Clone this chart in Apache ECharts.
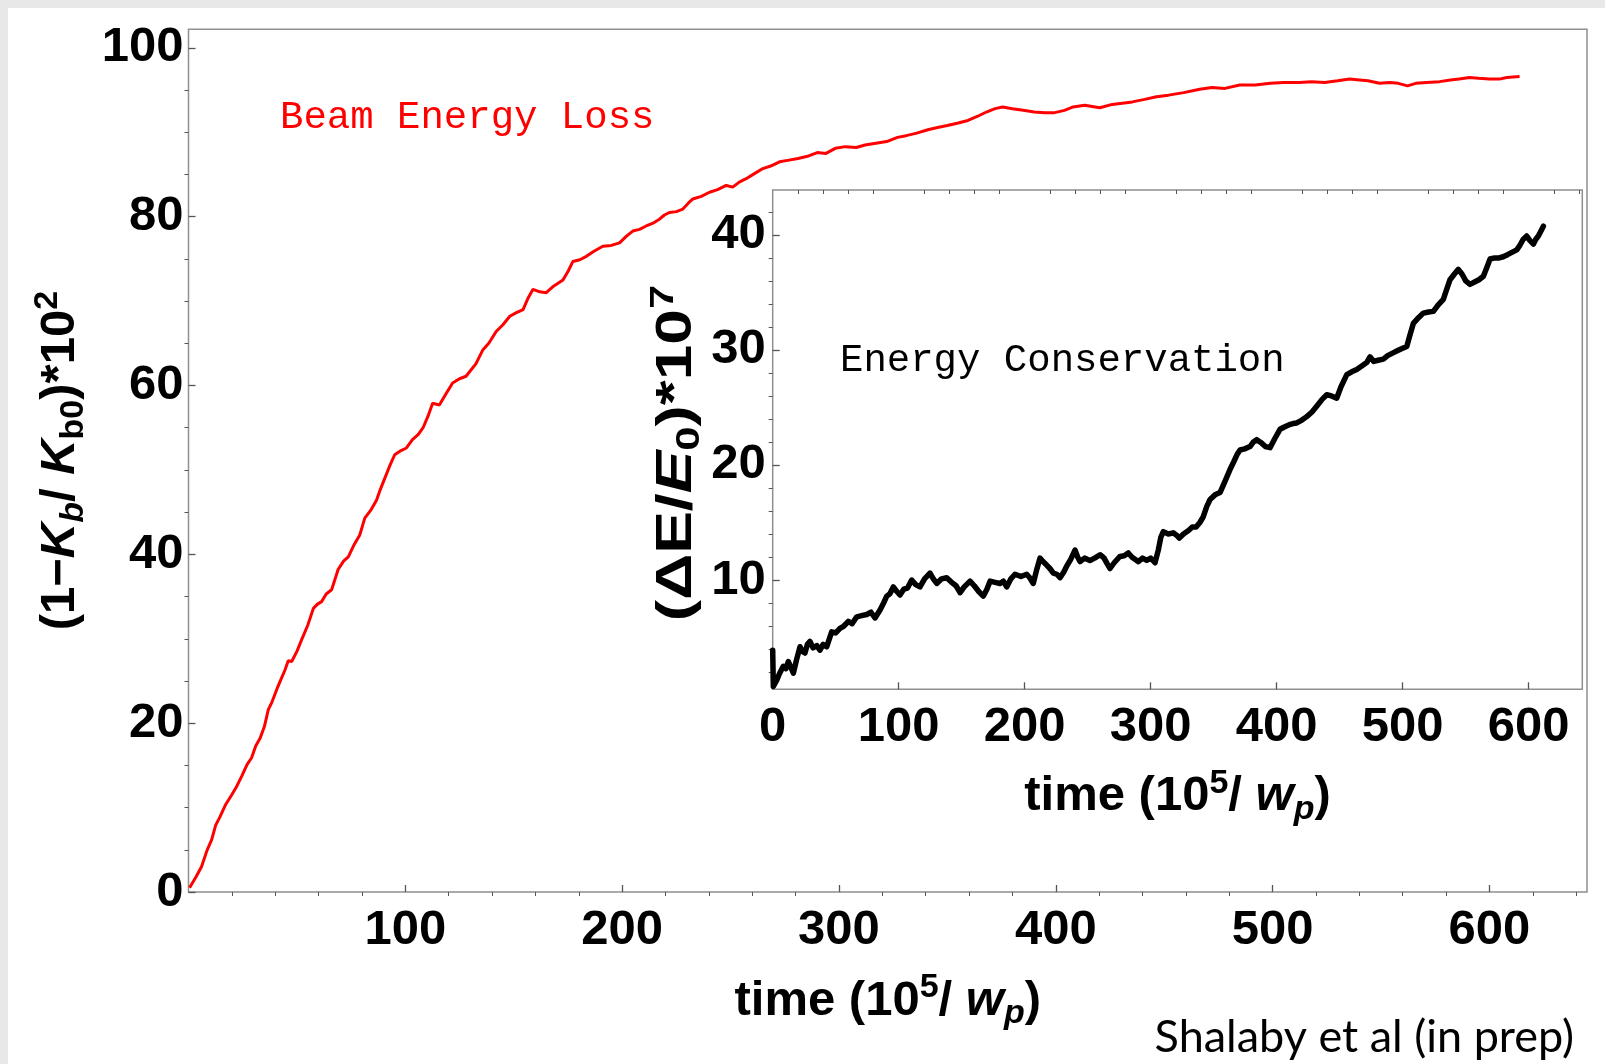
<!DOCTYPE html>
<html>
<head>
    <meta charset="UTF-8">
    <title>Beam Energy Loss</title>
    <script src="https://cdn.jsdelivr.net/npm/echarts@6/dist/echarts.min.js"></script>
    <style>
        body { margin: 0; background: #fff; }
        .strip { position: absolute; background: #e8e8e8; }
        #chart { position: absolute; left: 0; top: 0; width: 1605px; height: 1064px; }
    </style>
</head>
<body>
    <div class="strip" style="left:0; top:0; width:1605px; height:8px;"></div>
    <div class="strip" style="left:0; top:0; width:8px; height:1064px;"></div>
    <div id="chart"></div>

    <script>
        // main panel: beam energy loss (red)
        var beamT = [0.5, 1, 3.5, 6, 8.5, 10.7, 12.5, 14.5, 17, 19.9, 22, 24.5, 27, 29.1, 31, 33, 35, 36.8, 38.5, 40.7,
            42.5, 44.5, 46, 47.6, 50, 52.2, 55, 57.6, 59.5, 61.4, 63.5, 66, 67.5, 69, 71.5, 73.7, 76.5, 79, 81.3, 84,
            86.7, 88.5, 90.5, 93, 95.1, 98, 100.5, 103.3, 106, 108.2, 110.5, 112.6, 115.7, 118.5, 121.8, 125, 128, 132.6, 135.7, 138.5,
            141.9, 145, 148.2, 151, 154.3, 156.5, 158.9, 162, 165, 168.5, 172.7, 175.2, 177.3, 180.5, 183.5, 187, 191.1, 195, 198.8, 202,
            204.9, 208, 211.1, 214, 217.2, 219.5, 221.8, 225, 228, 230.5, 232.6, 236.5, 240.3, 244, 248, 251, 254, 257.2, 261, 264.9,
            268.5, 272.6, 277, 281.1, 286, 290, 294, 298.3, 303, 308, 312, 317, 322, 327, 331, 335.9, 341, 346, 350, 355,
            359.5, 364, 368, 372, 375.5, 380, 385, 390, 395, 399, 404, 408, 413.3, 420.3, 426, 435.3, 441, 446.4, 452, 459,
            466.4, 472, 478, 484.8, 492, 499, 505, 512.4, 518, 524, 530, 535.5, 540, 544, 549.3, 554, 558, 562.2, 566, 571,
            577, 582, 586, 590.8, 595, 600, 604.6, 608, 613.9];
        var beamLoss = [0.5, 0.6, 1.8, 3.0, 4.9, 6.2, 7.9, 8.9, 10.3, 11.5, 12.4, 13.7, 15.1, 15.9, 17.3, 18.2, 19.6, 21.6, 22.5, 24,
            25.1, 26.3, 27.4, 27.3, 28.5, 29.9, 31.6, 33.6, 34.1, 34.4, 35.3, 35.8, 37.0, 38.2, 39.2, 39.7, 41.2, 42.3, 44.3, 45.2,
            46.4, 47.7, 49, 50.6, 51.8, 52.3, 52.6, 53.6, 54.2, 55.0, 56.4, 57.9, 57.7, 58.9, 60.3, 60.8, 61.1, 62.6, 64.2, 65.0,
            66.4, 67.2, 68.2, 68.6, 69.0, 70.3, 71.4, 71.1, 71.0, 71.8, 72.5, 73.6, 74.7, 74.9, 75.3, 75.9, 76.5, 76.6, 76.9, 77.7,
            78.3, 78.5, 78.9, 79.2, 79.7, 80.2, 80.5, 80.6, 80.9, 81.6, 82.1, 82.4, 82.9, 83.2, 83.7, 83.5, 84.1, 84.5, 85.1, 85.7,
            86.0, 86.5, 86.7, 86.9, 87.2, 87.6, 87.5, 88.1, 88.3, 88.2, 88.5, 88.7, 88.9, 89.4, 89.6, 89.9, 90.3, 90.6, 90.8, 91.1,
            91.4, 91.9, 92.4, 92.8, 93.0, 92.8, 92.6, 92.4, 92.3, 92.3, 92.6, 93.0, 93.2, 92.9, 93.3, 93.6, 93.9, 94.2, 94.4, 94.7,
            95.1, 95.3, 95.2, 95.6, 95.6, 95.8, 95.9, 95.9, 96.0, 95.9, 96.1, 96.3, 96.2, 96.1, 95.8, 95.9, 95.8, 95.5, 95.8, 95.9,
            96.0, 96.2, 96.3, 96.5, 96.4, 96.3, 96.3, 96.5, 96.6];

        // inset: energy conservation (black)
        var consT = [0, 0.5, 3.2, 5.5, 8.4, 10.5, 12.4, 14.5, 16.4, 19, 21.7, 23.5, 25.6, 27.5, 29.6, 32, 35, 37.5, 40, 42.9,
            46.8, 50, 53.4, 56.5, 60, 63, 66.7, 70.5, 74.6, 78, 81.2, 85.2, 88, 90.5, 93, 95.7, 98.5, 101, 104, 107,
            110.3, 113.5, 116.9, 120.5, 124.8, 127.5, 130.2, 134, 138.1, 142, 145.5, 148.7, 152, 156.6, 160, 163.5, 167.1, 170, 172.5, 176.5,
            180.4, 183, 185.7, 189, 192.3, 197, 201.6, 204, 206.8, 209.5, 212.1, 214.5, 217.4, 220, 222.7, 225.5, 228, 231, 233.3, 236.5,
            239.9, 242, 243.9, 247.5, 251.8, 255.5, 259.8, 263, 265.5, 267.7, 271, 275.6, 279, 282.2, 285, 287.5, 290.2, 293.5, 296.8, 300,
            303.4, 306, 308, 310, 314, 317.9, 320.5, 322.7, 326, 330, 333, 336, 339, 341.7, 344.5, 347.1, 351, 355, 359, 362.9,
            366, 368.5, 370.9, 374.5, 378.8, 381.5, 384.1, 388, 391, 394.7, 398.5, 402.6, 406, 410, 413, 415.9, 420, 423.8, 428, 431.7,
            436, 439.7, 443.5, 447.6, 451, 455.6, 459.5, 463.5, 467.5, 471.4, 474, 477, 480.5, 484.6, 488, 491.5, 495.2, 499, 503.2, 505.5,
            508.4, 512.5, 516.4, 520.5, 524.3, 528, 532.2, 535, 537.5, 541, 544.1, 547, 550, 553.4, 557, 560.5, 564, 566.5, 569.3, 573,
            576.5, 579.8, 583.5, 587, 590.5, 593, 595.5, 598.4, 601, 603.7, 605.5, 607.6, 609.5, 611.6];
        var consErr = [3.9, 0.75, 1.3, 1.9, 2.5, 2.3, 2.9, 2.4, 1.9, 3.1, 4.2, 3.8, 3.65, 4.4, 4.66, 4.1, 4.3, 3.9, 4.4, 4.2,
            5.5, 5.4, 5.8, 6.0, 6.4, 6.2, 6.8, 6.9, 7.0, 7.2, 6.7, 7.4, 8.0, 8.6, 8.8, 9.4, 9.0, 8.7, 9.2, 9.3,
            10.0, 9.6, 9.4, 10.1, 10.6, 10.1, 9.7, 10.1, 10.2, 9.8, 9.5, 8.9, 9.4, 9.9, 9.5, 9.0, 8.6, 9.2, 9.9, 9.8,
            9.7, 9.9, 9.4, 10.1, 10.5, 10.3, 10.5, 10.2, 9.7, 10.9, 11.9, 11.6, 11.3, 11.0, 10.6, 10.5, 10.2, 10.7, 11.2, 11.8,
            12.6, 12.0, 11.6, 11.9, 11.7, 11.9, 12.2, 11.9, 11.4, 11.0, 11.5, 12.05, 12.1, 12.35, 12.0, 11.8, 11.6, 11.9, 11.7, 11.9,
            11.5, 12.6, 13.7, 14.2, 14.0, 14.1, 13.9, 13.65, 14.0, 14.3, 14.6, 14.6, 15.0, 15.5, 16.4, 17.0, 17.4, 17.6, 18.6, 19.6,
            20.3, 20.9, 21.3, 21.4, 21.6, 22.0, 22.2, 21.9, 21.6, 21.5, 22.3, 23.1, 23.3, 23.5, 23.6, 23.65, 23.9, 24.2, 24.6, 25.1,
            25.7, 26.1, 26.0, 25.8, 26.8, 27.85, 28.1, 28.3, 28.6, 28.9, 29.4, 29.0, 29.1, 29.2, 29.5, 29.7, 29.9, 30.1, 30.3, 31.2,
            32.3, 32.8, 33.2, 33.3, 33.35, 33.9, 34.4, 35.3, 36.1, 36.6, 37.0, 36.6, 36.0, 35.7, 35.9, 36.1, 36.4, 37.1, 37.9, 38.0,
            38.0, 38.1, 38.3, 38.5, 38.7, 39.1, 39.6, 39.9, 39.5, 39.2, 39.6, 39.9, 40.3, 40.75];

        // tick labels
        var mainXTicks = [100, 200, 300, 400, 500, 600];
        var mainYTicks = [0, 20, 40, 60, 80, 100];
        var insetXTicks = [0, 100, 200, 300, 400, 500, 600];
        var insetYTicks = [10, 20, 30, 40];

        function minorTicks(step, major, top) {
            var out = [];
            for (var v = step; v <= top; v += step) {
                if (v % major !== 0) out.push(v);
            }
            return out;
        }

        function zip(a, b) {
            return a.map(function (v, i) { return [v, b[i]]; });
        }

        var FONT = '"Liberation Sans", Arial, sans-serif';
        var MONO = '"Liberation Mono", "Courier New", monospace';
        var FRAME = '#8f8f8f';
        var TICK = '#555';

        function richStyles(size) {
            var base = { fontFamily: FONT, fontWeight: 'bold', color: '#000', fill: '#000', fontSize: size, lineHeight: 60 };
            var small = { fontFamily: FONT, fontWeight: 'bold', color: '#000', fill: '#000', fontSize: 34, lineHeight: 34 };
            return {
                n: base,
                it: Object.assign({}, base, { fontStyle: 'italic' }),
                sup: Object.assign({}, small, { verticalAlign: 'top' }),
                sub: Object.assign({}, small, { verticalAlign: 'bottom' }),
                subi: Object.assign({}, small, { verticalAlign: 'bottom', fontStyle: 'italic' })
            };
        }

        function richName(size) {
            return {
                fontFamily: FONT, fontWeight: 'bold', color: '#000', fontSize: size, lineHeight: 60,
                rich: richStyles(size)
            };
        }

        var labelStyle = { fontFamily: FONT, fontWeight: 'bold', fontSize: 49, color: '#000' };

        function majorAxis(grid, min, max, ticks, extra) {
            return Object.assign({
                type: 'value', gridIndex: grid, min: min, max: max,
                axisLine: { show: false }, splitLine: { show: false },
                axisTick: { inside: true, length: 7, customValues: ticks, lineStyle: { color: TICK, width: 1.3 } },
                axisLabel: Object.assign({ customValues: ticks }, labelStyle)
            }, extra);
        }

        function minorAxis(grid, min, max, ticks, z) {
            return {
                type: 'value', gridIndex: grid, min: min, max: max, z: z,
                axisLine: { show: false }, splitLine: { show: false },
                axisTick: { inside: true, length: 4, customValues: ticks, lineStyle: { color: TICK, width: 1 } },
                axisLabel: { show: false }
            };
        }

        var timeName = '{n|time (10}{sup|5}{n|/ }{it|w}{subi|p}{n|)}';

        var chart = echarts.init(document.getElementById('chart'), null, { renderer: 'canvas' });

        var option = {
            animation: false,
            grid: [
                { left: 188.5, top: 29.3, right: 18, bottom: 172, show: true, backgroundColor: '#fff',
                  borderColor: FRAME, borderWidth: 1.5, z: 0 },
                { left: 772.7, top: 190, right: 22.7, bottom: 374.7, show: true, backgroundColor: '#fff',
                  borderColor: FRAME, borderWidth: 1.5, z: 3 }
            ],
            xAxis: [
                majorAxis(0, 0, 645, mainXTicks, {
                    z: 1,
                    axisLabel: Object.assign({ customValues: mainXTicks, margin: 14, lineHeight: 49 }, labelStyle),
                    name: timeName, nameLocation: 'middle', nameGap: 79, nameTextStyle: richName(49)
                }),
                minorAxis(0, 0, 645, minorTicks(20, 100, 640), 1),
                majorAxis(1, 0, 642.5, insetXTicks, {
                    z: 4,
                    axisLabel: Object.assign({ customValues: insetXTicks, margin: 14, lineHeight: 49 }, labelStyle),
                    name: timeName, nameLocation: 'middle', nameGap: 77, nameTextStyle: richName(49)
                }),
                minorAxis(1, 0, 642.5, minorTicks(20, 100, 640), 4)
            ],
            yAxis: [
                majorAxis(0, 0, 102.2, mainYTicks, {
                    z: 1,
                    axisLabel: Object.assign({ customValues: mainYTicks, margin: 5 }, labelStyle),
                    name: '{n|(1\u2212}{it|K}{subi|b}{n|/ }{it|K}{sub|b0}{n|)*10}{sup|2}',
                    nameLocation: 'middle', nameRotate: 90, nameGap: 83, nameTextStyle: richName(49)
                }),
                minorAxis(0, 0, 102.2, minorTicks(5, 20, 100), 1),
                majorAxis(1, 0.5, 43.9, insetYTicks, {
                    z: 4,
                    axisLabel: Object.assign({ customValues: insetYTicks, margin: 7 }, labelStyle)
                }),
                minorAxis(1, 0.5, 43.9, minorTicks(2, 10, 42), 4)
            ],
            series: [
                {
                    type: 'line', xAxisIndex: 0, yAxisIndex: 0, z: 2,
                    data: zip(beamT, beamLoss),
                    showSymbol: false, smooth: false,
                    lineStyle: { color: '#ff0000', width: 3 }
                },
                {
                    type: 'line', xAxisIndex: 2, yAxisIndex: 2, z: 5,
                    data: zip(consT, consErr),
                    showSymbol: false, smooth: false,
                    lineStyle: { color: '#000', width: 5.5, join: 'round', cap: 'round' }
                }
            ],
            graphic: [
                { type: 'text', x: 280, y: 118, z: 10,
                  style: { text: 'Beam Energy Loss', font: '39px ' + MONO, fill: '#ff0000', textAlign: 'left', textVerticalAlign: 'middle' } },
                { type: 'text', x: 840, y: 361, z: 10,
                  style: { text: 'Energy Conservation', font: '39px ' + MONO, fill: '#000', textAlign: 'left', textVerticalAlign: 'middle' } },
                // inset y-axis title, stretched along its length like the original
                { type: 'text', x: 677, y: 453, z: 10, rotation: Math.PI / 2, scaleX: 1.28,
                  style: { text: '{n|(\u0394E/}{it|E}{sub|0}{n|)*10}{sup|7}', rich: richStyles(50),
                           fontFamily: FONT, fontWeight: 'bold', fontSize: 50, lineHeight: 60, fill: '#000',
                           textAlign: 'center', textVerticalAlign: 'middle' } },
                { type: 'text', x: 1574, y: 1037, z: 10,
                  style: { text: 'Shalaby et al (in prep)', font: '45px Lato, "Open Sans", sans-serif', fill: '#000', textAlign: 'right', textVerticalAlign: 'middle' } }
            ]
        };

        chart.setOption(option);
    </script>
</body>
</html>
